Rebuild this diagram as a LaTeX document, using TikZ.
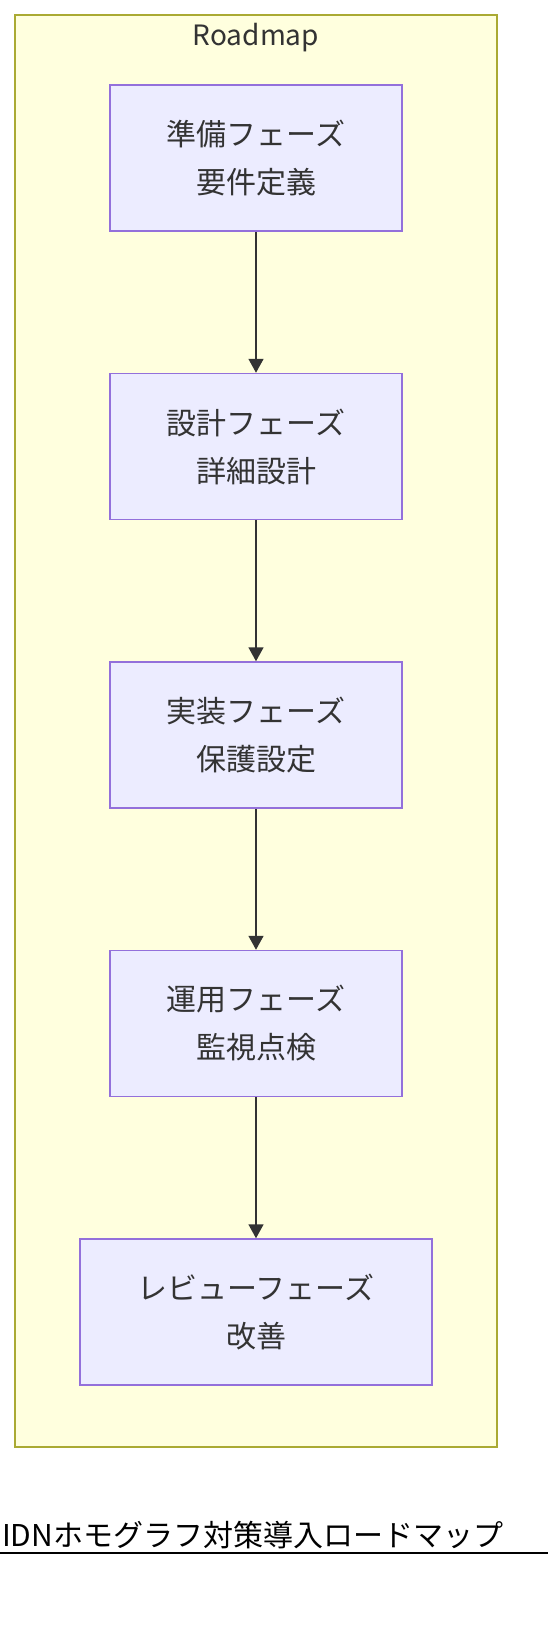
\documentclass[tikz,border=0pt]{standalone}
\usepackage{fontspec}
\setmainfont{Noto Sans CJK JP}
\usetikzlibrary{positioning, arrows.meta}
\definecolor{clusterfill}{HTML}{FFFFDE}
\definecolor{clusterline}{HTML}{AAAA33}
\definecolor{phasefill}{HTML}{ECECFF}
\definecolor{phaseline}{HTML}{9370DB}
\definecolor{linkgray}{HTML}{333333}

\begin{document}
\begin{tikzpicture}[x=1pt, y=-1pt, >={Triangle[width=15pt, length=14pt]}]
    \tikzset{
        cluster/.style={fill=clusterfill, draw=clusterline, line width=1.5pt},
        phase/.style={rectangle, fill=phasefill, draw=phaseline, line width=1.5pt,
            minimum width=292pt, minimum height=146pt, align=center,
            text=linkgray, font=\fontsize{30}{48}\selectfont},
        link/.style={->, line width=1.6pt, draw=linkgray},
        cluster_label/.style={text=linkgray, font=\fontsize{28}{32}\selectfont},
        map_title/.style={anchor=west, inner sep=0pt, font=\fontsize{30}{36}\selectfont}
    }
    \useasboundingbox (0,0) rectangle (548,1626);

    \draw[cluster] (15,15) rectangle (497,1447);
    \node[cluster_label] (roadmap) at (256,38) {Roadmap};

    \node[phase] (prep) at (256,158) {準備フェーズ\\要件定義};
    \node[phase, below=141pt of prep] (design) {設計フェーズ\\詳細設計};
    \node[phase, below=141pt of design] (impl) {実装フェーズ\\保護設定};
    \node[phase, below=141pt of impl] (ops) {運用フェーズ\\監視点検};
    \node[phase, minimum width=352pt, below=141pt of ops] (review) {レビューフェーズ\\改善};

    \draw[link] (prep) -- (design);
    \draw[link] (design) -- (impl);
    \draw[link] (impl) -- (ops);
    \draw[link] (ops) -- (review);

    \node[map_title] (title) at (2,1535) {IDNホモグラフ対策導入ロードマップ};
    \draw[line width=1.5pt] (0,1553) -- (548,1553);
\end{tikzpicture}
\end{document}
